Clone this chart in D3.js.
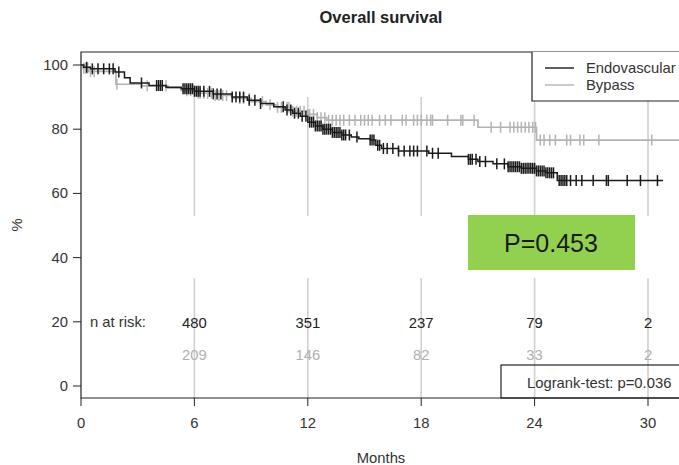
<!DOCTYPE html>
<html><head><meta charset="utf-8">
<script src="https://cdn.jsdelivr.net/npm/d3@7"></script>
<style>
body{margin:0;background:#fff;}
text{font-family:"Liberation Sans",Arial,sans-serif;}
</style></head>
<body><svg id="c" width="679" height="465"></svg>
<script>
// ---- data ----
const xTicks = [0, 6, 12, 18, 24, 30];
const yTicks = [0, 20, 40, 60, 80, 100];
const seriesNames = ["Endovascular", "Bypass"];
// step survival curves: [time (months), survival %]
const endoSteps = [[0,100],[0.15,99.3],[0.5,98.8],[1.8,97.8],[2.3,96],[2.6,94.4],[3.6,93.6],[4.5,93.1],[5.3,92.6],[6.0,91.8],[7.0,91.0],[8.0,90.0],[8.8,89.0],[9.5,88.0],[10.2,87.0],[10.8,86.0],[11.2,85.0],[11.6,84.0],[12.0,82.2],[12.4,81.0],[12.8,80.0],[13.3,79.0],[13.8,78.2],[14.3,77.6],[14.7,77.0],[15.3,76.6],[15.6,75.0],[15.9,74.0],[16.8,73.2],[18.4,72.5],[19.6,71.5],[20.5,70.6],[21.0,69.9],[21.8,69.2],[22.6,68.3],[23.3,67.8],[24.1,67.0],[24.6,66.4],[25.2,64.0]];
const endoEnd = 30.8;
const bypassSteps = [[0,100],[0.1,99],[0.4,98],[1.85,94.0],[3.2,93.5],[4.6,92.8],[5.3,92.0],[6.2,91.2],[7.0,90.5],[8.0,89.6],[9.0,88.6],[9.8,87.6],[10.4,86.8],[11.2,85.6],[12.0,84.6],[12.5,83.6],[13.0,82.8],[21.0,80.6],[24.1,76.6]];
const bypassEnd = 32;
// censoring times (months)
const endoCensor = [0.3,0.6,0.9,1.2,1.5,1.7,2.0,3.2,4.0,4.1,4.2,4.3,5.4,5.5,5.6,5.7,5.8,5.9,6.0,6.1,6.2,6.3,6.5,6.8,7.0,7.2,7.4,8.0,8.2,8.4,8.6,8.9,9.2,9.5,10.7,10.9,11.1,11.3,11.5,11.7,11.9,12.1,12.2,12.3,12.4,12.5,12.6,12.7,12.8,12.9,13.0,13.1,13.2,13.3,13.4,13.5,13.6,13.7,13.8,13.9,14.0,14.2,14.6,15.3,15.4,15.5,15.7,15.8,16.0,16.2,16.5,16.8,17.1,17.4,17.6,17.8,18.3,18.6,18.9,20.5,20.6,20.7,20.9,21.1,21.4,22.0,22.4,22.6,22.7,22.8,22.9,23.0,23.1,23.2,23.3,23.4,23.5,23.6,23.7,23.8,23.9,24.0,24.1,24.2,24.3,24.4,24.5,24.6,24.7,24.8,24.9,25.0,25.3,25.4,25.5,25.6,25.7,25.9,26.2,26.5,27.1,27.8,27.9,28.9,29.6,30.5];
const bypassCensor = [0.15,0.25,0.35,0.5,0.7,1.9,3.5,4.5,5.6,5.8,6.0,6.2,6.3,6.5,6.7,6.9,7.1,7.3,7.5,7.7,8.4,8.6,8.9,9.6,10.0,10.4,10.6,10.9,11.0,11.2,11.4,11.6,11.8,12.0,12.1,12.3,12.5,12.7,12.9,13.1,13.3,13.5,13.7,13.9,14.2,14.5,14.8,15.0,15.2,15.4,15.8,16.1,16.4,17.0,17.2,17.6,17.8,18.0,18.3,18.5,18.6,19.4,20.1,20.2,20.8,21.7,22.2,22.7,22.9,23.1,23.3,23.5,23.7,23.9,24.05,24.3,24.5,24.8,25.1,25.7,25.9,26.4,26.6,27.4,30.2];
const riskEndo = [480, 351, 237, 79, 2];
const riskBypass = [209, 146, 82, 33, 2];
const riskTimes = [6, 12, 18, 24, 30];
const pBoxText = "P=0.453";
const logrankText = "Logrank-test: p=0.036";

// ---- drawing ----
const svg = d3.select("#c");
const x = d3.scaleLinear().domain([0, 30]).range([81, 648]);
const y = d3.scaleLinear().domain([0, 100]).range([386, 65]);
const plotTop = 52, plotBottom = 398, plotLeft = 81, plotRight = 700;
const cBlack = "#1a1a1a", cGray = "#b3b3b3", cGrid = "#d0d0d0", cText = "#333";
const fs = 14.8;

// title
svg.append("text").attr("x", 381).attr("y", 23).attr("text-anchor", "middle")
  .attr("font-weight", "bold").attr("font-size", 16.5).attr("fill", "#222").text("Overall survival");

// grid lines (two segments, gap in the middle)
riskTimes.forEach(t => {
  svg.append("line").attr("x1", x(t)).attr("x2", x(t)).attr("y1", 97).attr("y2", 216)
    .attr("stroke", cGrid).attr("stroke-width", 1.6);
  svg.append("line").attr("x1", x(t)).attr("x2", x(t)).attr("y1", 278).attr("y2", plotBottom)
    .attr("stroke", cGrid).attr("stroke-width", 1.6);
});

function stepVal(steps, t) {
  let v = steps[0][1];
  for (const s of steps) { if (s[0] <= t) v = s[1]; else break; }
  return v;
}
const line = d3.line().x(d => x(d[0])).y(d => y(d[1])).curve(d3.curveStepAfter);
function drawSeries(steps, end, censor, color, w) {
  const pts = steps.concat([[end, steps[steps.length - 1][1]]]);
  svg.append("path").attr("d", line(pts)).attr("fill", "none").attr("stroke", color).attr("stroke-width", w);
  svg.append("g").selectAll("line").data(censor).join("line")
    .attr("x1", d => x(d)).attr("x2", d => x(d))
    .attr("y1", d => y(stepVal(steps, d)) - 5.5).attr("y2", d => y(stepVal(steps, d)) + 5.5)
    .attr("stroke", color).attr("stroke-width", 1.5);
}
drawSeries(bypassSteps, bypassEnd, bypassCensor, cGray, 1.7);
drawSeries(endoSteps, endoEnd, endoCensor, cBlack, 1.5);

// plot frame
svg.append("path").attr("d", `M${plotRight},${plotTop}H${plotLeft}V${plotBottom}H${plotRight}`)
  .attr("fill", "none").attr("stroke", "#222").attr("stroke-width", 1.2);

// y axis
const yg = svg.append("g");
yTicks.forEach(v => {
  yg.append("line").attr("x1", plotLeft - 8).attr("x2", plotLeft).attr("y1", y(v)).attr("y2", y(v)).attr("stroke", "#222");
  yg.append("text").attr("x", plotLeft - 13).attr("y", y(v) + 5).attr("text-anchor", "end")
    .attr("font-size", fs).attr("fill", cText).text(v);
});
svg.append("text").attr("transform", "translate(22,225) rotate(-90)").attr("text-anchor", "middle")
  .attr("font-size", fs).attr("fill", cText).text("%");

// x axis
xTicks.forEach(v => {
  svg.append("line").attr("x1", x(v)).attr("x2", x(v)).attr("y1", plotBottom).attr("y2", plotBottom + 8).attr("stroke", "#222");
  svg.append("text").attr("x", x(v)).attr("y", 428).attr("text-anchor", "middle")
    .attr("font-size", fs).attr("fill", cText).text(v);
});
svg.append("text").attr("x", 381).attr("y", 463).attr("text-anchor", "middle")
  .attr("font-size", fs).attr("fill", cText).text("Months");

// n at risk
svg.append("text").attr("x", 90).attr("y", 327).attr("font-size", fs).attr("fill", cText).text("n at risk:");
riskTimes.forEach((t, i) => {
  svg.append("text").attr("x", x(t)).attr("y", 328).attr("text-anchor", "middle")
    .attr("font-size", fs).attr("fill", "#222").text(riskEndo[i]);
  svg.append("text").attr("x", x(t)).attr("y", 360).attr("text-anchor", "middle")
    .attr("font-size", fs).attr("fill", "#b0b0b0").text(riskBypass[i]);
});

// legend
svg.append("rect").attr("x", 532).attr("y", plotTop).attr("width", 200).attr("height", 101 - plotTop).attr("fill", "#fff");
svg.append("path").attr("d", `M${plotRight},101H532V${plotTop}`).attr("fill", "none").attr("stroke", "#222").attr("stroke-width", 1.2);
const legColors = [cBlack, cGray];
seriesNames.forEach((n, i) => {
  const ly = 68 + i * 17;
  svg.append("line").attr("x1", 545).attr("x2", 574).attr("y1", ly).attr("y2", ly).attr("stroke", legColors[i]).attr("stroke-width", 1.4);
  svg.append("text").attr("x", 586).attr("y", ly + 5).attr("font-size", fs).attr("fill", cText).text(n);
});

// logrank box
svg.append("rect").attr("x", 501).attr("y", 365).attr("width", 250).attr("height", plotBottom - 365)
  .attr("fill", "none").attr("stroke", "#222").attr("stroke-width", 1.2);
svg.append("text").attr("x", 527).attr("y", 388).attr("font-size", fs).attr("fill", cText).text(logrankText);

// green p-value box
svg.append("rect").attr("x", 468).attr("y", 215).attr("width", 167).attr("height", 55).attr("fill", "#92d050");
svg.append("text").attr("x", 551).attr("y", 252).attr("text-anchor", "middle")
  .attr("font-size", 25).attr("fill", "#1a1a1a").text(pBoxText);
</script></body></html>
